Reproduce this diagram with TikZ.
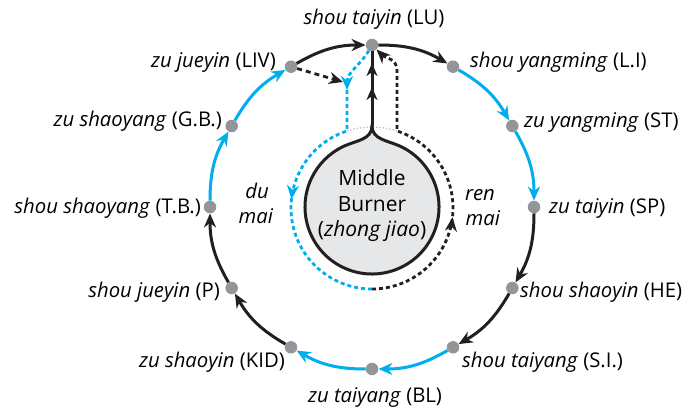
\documentclass[tikz,border=0pt]{standalone}
\usepackage{fontspec}
\setmainfont{Open Sans}
\usetikzlibrary{arrows.meta,decorations.markings,calc}
\definecolor{cblue}{HTML}{00AEEF}
\definecolor{cblack}{HTML}{231F20}
\definecolor{cdot}{HTML}{939598}
\definecolor{cfill}{HTML}{E6E7E8}
\definecolor{cgrey}{HTML}{BCBEC0}
\begin{document}
\begin{tikzpicture}[x=1pt,y=1pt,
  mdot/.style={circle,fill=cdot,inner sep=0pt,minimum size=12.5pt},
  lbl/.style={font=\fontsize{20.3}{24}\selectfont,inner sep=0pt},
  tip/.tip={Stealth[length=14pt,width=12pt,inset=4.5pt]},
  ringarrow/.style={line width=3pt,-tip},
  blk/.style={ringarrow,draw=cblack},
  blu/.style={ringarrow,draw=cblue},
  dotline/.style={line width=2.8pt,dash pattern=on 4pt off 3pt},
]
\useasboundingbox (0,0) rectangle (685,-409);
\coordinate (C) at (372,-207);
\coordinate (C2) at (372,-208);
% dots on the outer ring
\node[mdot] (LU)  at ($(C)+(90:162)$) {};
\node[mdot] (LI)  at ($(C)+(60:162)$) {};
\node[mdot] (ST)  at ($(C)+(30:162)$) {};
\node[mdot] (SP)  at ($(C)+(0:162)$) {};
\node[mdot] (HE)  at ($(C)+(-30:162)$) {};
\node[mdot] (SI)  at ($(C)+(-60:162)$) {};
\node[mdot] (BL)  at ($(C)+(-90:162)$) {};
\node[mdot] (KID) at ($(C)+(-120:162)$) {};
\node[mdot] (P)   at ($(C)+(-150:162)$) {};
\node[mdot] (TB)  at ($(C)+(180:162)$) {};
\node[mdot] (GB)  at ($(C)+(150:162)$) {};
\node[mdot] (LIV) at ($(C)+(120:162)$) {};
% ring connectors
\draw[blk] (LIV) to[bend left=15] (LU);
\draw[blk] (LU)  to[bend left=15] (LI);
\draw[blu] (LI)  to[bend left=15] (ST);
\draw[blu] (ST)  to[bend left=15] (SP);
\draw[blk] (SP)  to[bend left=15] (HE);
\draw[blk] (HE)  to[bend left=15] (SI);
\draw[blu] (SI)  to[bend left=15] (BL);
\draw[blu] (BL)  to[bend left=15] (KID);
\draw[blk] (KID) to[bend left=15] (P);
\draw[blk] (P)   to[bend left=15] (TB);
\draw[blu] (TB)  to[bend left=15] (GB);
\draw[blu] (GB)  to[bend left=15] (LIV);
% labels
\node[lbl,anchor=base] (tLU) at (374,-25) {\textit{shou taiyin} (LU)};
\node[lbl,anchor=base west] (tLI) at (470,-68) {\textit{shou yangming} (L.I)};
\node[lbl,anchor=base west] (tST) at (524,-128) {\textit{zu yangming} (ST)};
\node[lbl,anchor=base west] (tSP) at (549,-213) {\textit{zu taiyin} (SP)};
\node[lbl,anchor=base west] (tHE) at (520,-297) {\textit{shou shaoyin} (HE)};
\node[lbl,anchor=base west] (tSI) at (462,-367) {\textit{shou taiyang} (S.I.)};
\node[lbl,anchor=base] (tBL) at (375,-402) {\textit{zu taiyang} (BL)};
\node[lbl,anchor=base east] (tKID) at (285,-367) {\textit{zu shaoyin} (KID)};
\node[lbl,anchor=base east] (tP) at (220,-297) {\textit{shou jueyin} (P)};
\node[lbl,anchor=base east] (tTB) at (201,-213) {\textit{shou shaoyang} (T.B.)};
\node[lbl,anchor=base east] (tGB) at (222,-127) {\textit{zu shaoyang} (G.B.)};
\node[lbl,anchor=base east] (tLIV) at (276,-68) {\textit{zu jueyin} (LIV)};
% du mai / ren mai
\node[lbl,anchor=base] (tdu) at (257,-198) {\textit{du}};
\node[lbl,anchor=base] (tdumai) at (256,-223) {\textit{mai}};
\node[lbl,anchor=base] (tren) at (480,-200) {\textit{ren}};
\node[lbl,anchor=base] (trenmai) at (483,-225) {\textit{mai}};
% grey dotted link
\draw[cgrey,line width=1.3pt,dotted] ($(C2)+(108:81)$) arc[start angle=108,end angle=72,radius=81];
% du mai (blue dotted)
\coordinate (D1) at (347,-90);
\coordinate (D2) at ($(C2)+(108:81)$);
\draw[cblue,dotline,-tip] (LU) to[out=240,in=90] (D1);
\draw[cblue,dotline,postaction={decorate},decoration={markings,mark=at position 134pt with {\arrow{tip}}}]
  (D1) -- (D2) arc[start angle=108,end angle=270,radius=81];
% ren mai (black dotted)
\coordinate (R0) at ($(C2)+(270:81)$);
\coordinate (R1) at ($(C2)+(72:81)$);
\coordinate (R2) at (397,-70);
\draw[cblack,dotline,-tip,postaction={decorate},decoration={markings,mark=at position 118pt with {\arrow{tip}}}]
  (R0) arc[start angle=-90,end angle=72,radius=81] -- (R2) to[out=90,in=-45] (LU);
% LIV dashed branch
\coordinate (LV1) at (343,-82);
\draw[cblack,dotline,dash pattern=on 5pt off 4pt,-tip] (LIV) -- (LV1);
% middle burner
\coordinate (PK) at (372,-126);
\coordinate (J1) at ($(C)+(65:67)$);
\coordinate (J2) at ($(C)+(115:67)$);
\draw[cblack,line width=3pt,fill=cfill]
  (PK) to[out=-90,in=155] (J1) arc[start angle=65,end angle=-245,radius=67]
  to[out=25,in=-90] (PK) -- cycle;
\draw[cblack,line width=3pt,postaction={decorate},
  decoration={markings,
    mark=at position 39pt with {\arrow{Stealth[length=13pt,width=11pt,inset=4pt]}},
    mark=at position 63pt with {\arrow{Stealth[length=13pt,width=11pt,inset=4pt]}}}]
  (PK) -- (LU);
\node[font=\fontsize{21}{25.5}\selectfont,align=center,inner sep=0pt] (MB) at (372,-206)
  {Middle\\Burner\\(\textit{zhong jiao})};
\end{tikzpicture}
\end{document}
